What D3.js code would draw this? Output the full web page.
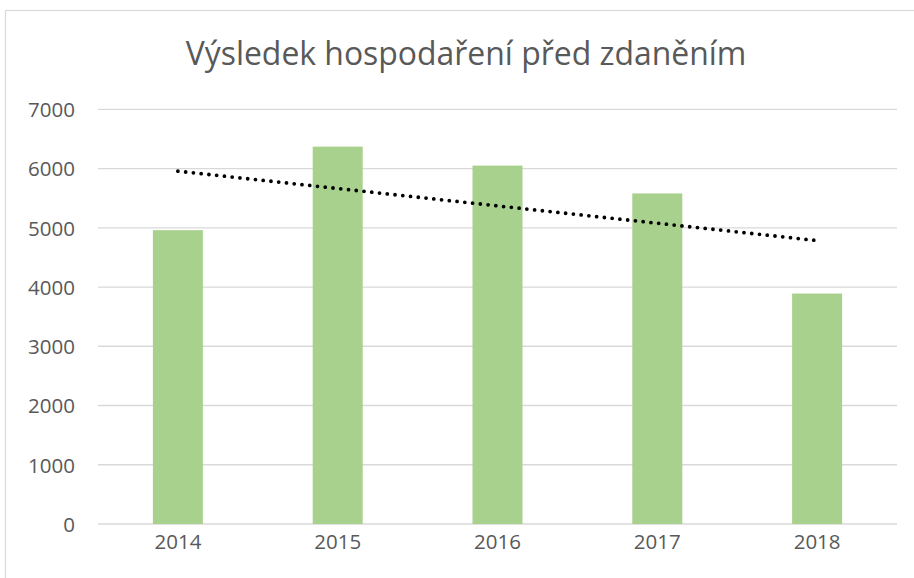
<!DOCTYPE html>
<html>
<head>
<meta charset="utf-8">
<script src="https://d3js.org/d3.v7.min.js"></script>
<style>
  body { margin: 0; background: #fff; }
  svg { display: block; }
</style>
</head>
<body>
<div id="chart"></div>
<script>
// data
const title = "Výsledek hospodaření před zdaněním";
const years = ["2014", "2015", "2016", "2017", "2018"];
const values = [4960, 6370, 6050, 5580, 3890];
const yTicks = [0, 1000, 2000, 3000, 4000, 5000, 6000, 7000];

const W = 914, H = 578;
const plot = { left: 98, right: 897, top: 109.3, bottom: 524 };
const font = "'Open Sans', 'Liberation Sans', sans-serif";
const textColor = "#595959";

const svg = d3.select("#chart").append("svg")
  .attr("width", W).attr("height", H);

// chart frame
svg.append("rect")
  .attr("x", 5.5).attr("y", 10.5)
  .attr("width", W + 10).attr("height", H + 10)
  .attr("fill", "#fff").attr("stroke", "#d9d9d9").attr("stroke-width", 1.2);

const x = d3.scaleBand().domain(years).range([plot.left, plot.right]).padding(0);
const y = d3.scaleLinear().domain([0, 7000]).range([plot.bottom, plot.top]);
const barW = x.bandwidth() * 0.313;

// gridlines
svg.append("g").selectAll("line")
  .data(yTicks)
  .join("line")
  .attr("x1", plot.left).attr("x2", plot.right)
  .attr("y1", d => y(d)).attr("y2", d => y(d))
  .attr("stroke", "#d9d9d9").attr("stroke-width", 1.3);

// y labels
const yAxis = d3.axisLeft(y).tickValues(yTicks).tickFormat(d3.format("d")).tickSize(0).tickPadding(0);
const gy = svg.append("g").attr("transform", "translate(75,0)").call(yAxis);
gy.select(".domain").remove();
gy.selectAll("text")
  .attr("font-family", font).attr("font-size", 20.5)
  .attr("fill", textColor).attr("dy", "0.36em");

// bars
svg.append("g").selectAll("rect")
  .data(values)
  .join("rect")
  .attr("x", (d, i) => x(years[i]) + x.bandwidth() / 2 - barW / 2)
  .attr("y", d => y(d))
  .attr("width", barW)
  .attr("height", d => y(0) - y(d))
  .attr("fill", "#a9d18e");

// x labels
const xAxis = d3.axisBottom(x).tickSize(0).tickPadding(0);
const gx = svg.append("g").attr("transform", `translate(0,${plot.bottom})`).call(xAxis);
gx.select(".domain").remove();
gx.selectAll("text")
  .attr("font-family", font).attr("font-size", 20.5)
  .attr("fill", textColor).attr("dy", "1.2em");

// linear trendline (least squares over the bar values)
const idx = values.map((d, i) => i);
const mx = d3.mean(idx), my = d3.mean(values);
const slope = d3.sum(idx, i => (i - mx) * (values[i] - my)) / d3.sum(idx, i => (i - mx) ** 2);
const trend = [0, years.length - 1].map(i => [years[i], my + slope * (i - mx)]);
const cx = yr => x(yr) + x.bandwidth() / 2;

svg.append("path")
  .datum(trend)
  .attr("d", d3.line().x(d => cx(d[0])).y(d => y(d[1])))
  .attr("fill", "none").attr("stroke", "#000")
  .attr("stroke-width", 3.8).attr("stroke-linecap", "round")
  .attr("stroke-dasharray", "0 7.8");

// title, sized to the reference width
const t = svg.append("text")
  .attr("x", 466).attr("y", 64.5)
  .attr("text-anchor", "middle")
  .attr("font-family", font).attr("font-size", 30)
  .attr("fill", textColor)
  .text(title);
const tw = t.node().getComputedTextLength();
t.attr("font-size", 30 * 561 / tw);
</script>
</body>
</html>
